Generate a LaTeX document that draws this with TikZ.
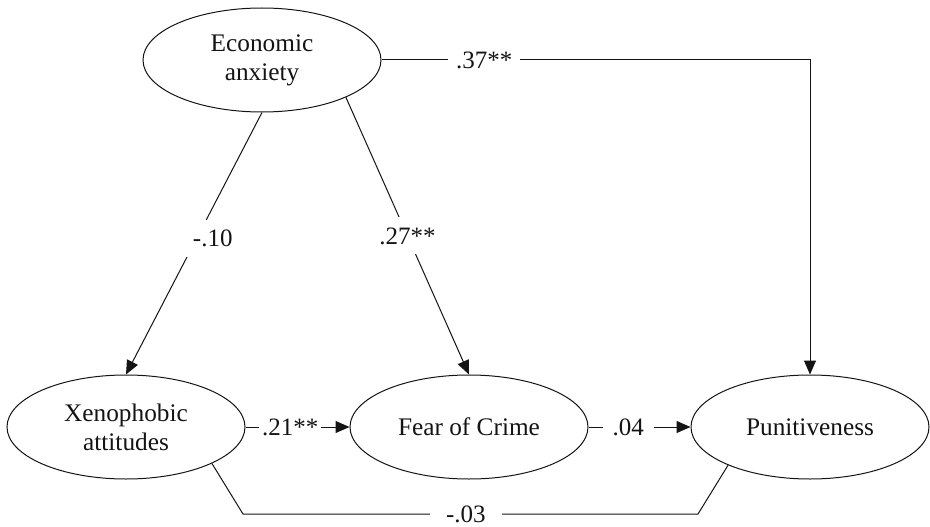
\documentclass[tikz,border=0pt]{standalone}
\usepackage{fontspec}
\setmainfont{Liberation Serif}
\newfontfamily\tms{Liberation Serif}
\usetikzlibrary{shapes.geometric,arrows.meta}
\definecolor{ink}{RGB}{20,20,20}
\begin{document}
\begin{tikzpicture}[x=1pt,y=-1pt,
  latent/.style={ellipse,draw=ink,text=ink,line width=1pt,minimum width=238pt,minimum height=104pt,
    inner sep=0pt,align=center,font=\tms\fontsize{25.3}{29}\selectfont},
  conn/.style={draw=ink,line width=1pt},
  arr/.style={conn,-{Triangle[length=14pt,width=12pt]}},
  lab/.style={fill=white,text=ink,inner sep=8pt,font=\tms\fontsize{25}{29}\selectfont}]
\useasboundingbox (0,0) rectangle (930,527);
\fill[white] (0,0) rectangle (930,527);

\node[latent] (ea) at (262,60) {Economic\\anxiety};
\node[latent] (xa) at (126,427) {Xenophobic\\attitudes};
\node[latent] (fc) at (469,427) {Fear of Crime};
\node[latent] (pu) at (810,427) {Punitiveness};

\coordinate (b1) at (243,514);
\coordinate (b2) at (698,514);

\draw[arr] (ea.south) -- node[lab,pos=0.48,xshift=16pt,inner sep=10pt]{-.10} (xa.north);
\draw[arr] (ea.-24) -- node[lab,pos=0.5,inner sep=10pt]{.27**} (fc.north);
\draw[arr] (ea.east) -| node[lab,pos=0.12]{.37**} (pu.north);
\draw[arr] (xa.east) -- node[lab,pos=0.43,inner sep=3pt]{.21**} (fc.west);
\draw[arr] (fc.east) -- node[lab,pos=0.39,inner sep=10pt]{.04} (pu.west);
\draw[conn] (xa.-23) -- (b1) -- node[lab,pos=0.49,inner sep=16pt,yshift=-0.5pt]{-.03} (b2) -- (pu.-155);
\end{tikzpicture}
\end{document}
